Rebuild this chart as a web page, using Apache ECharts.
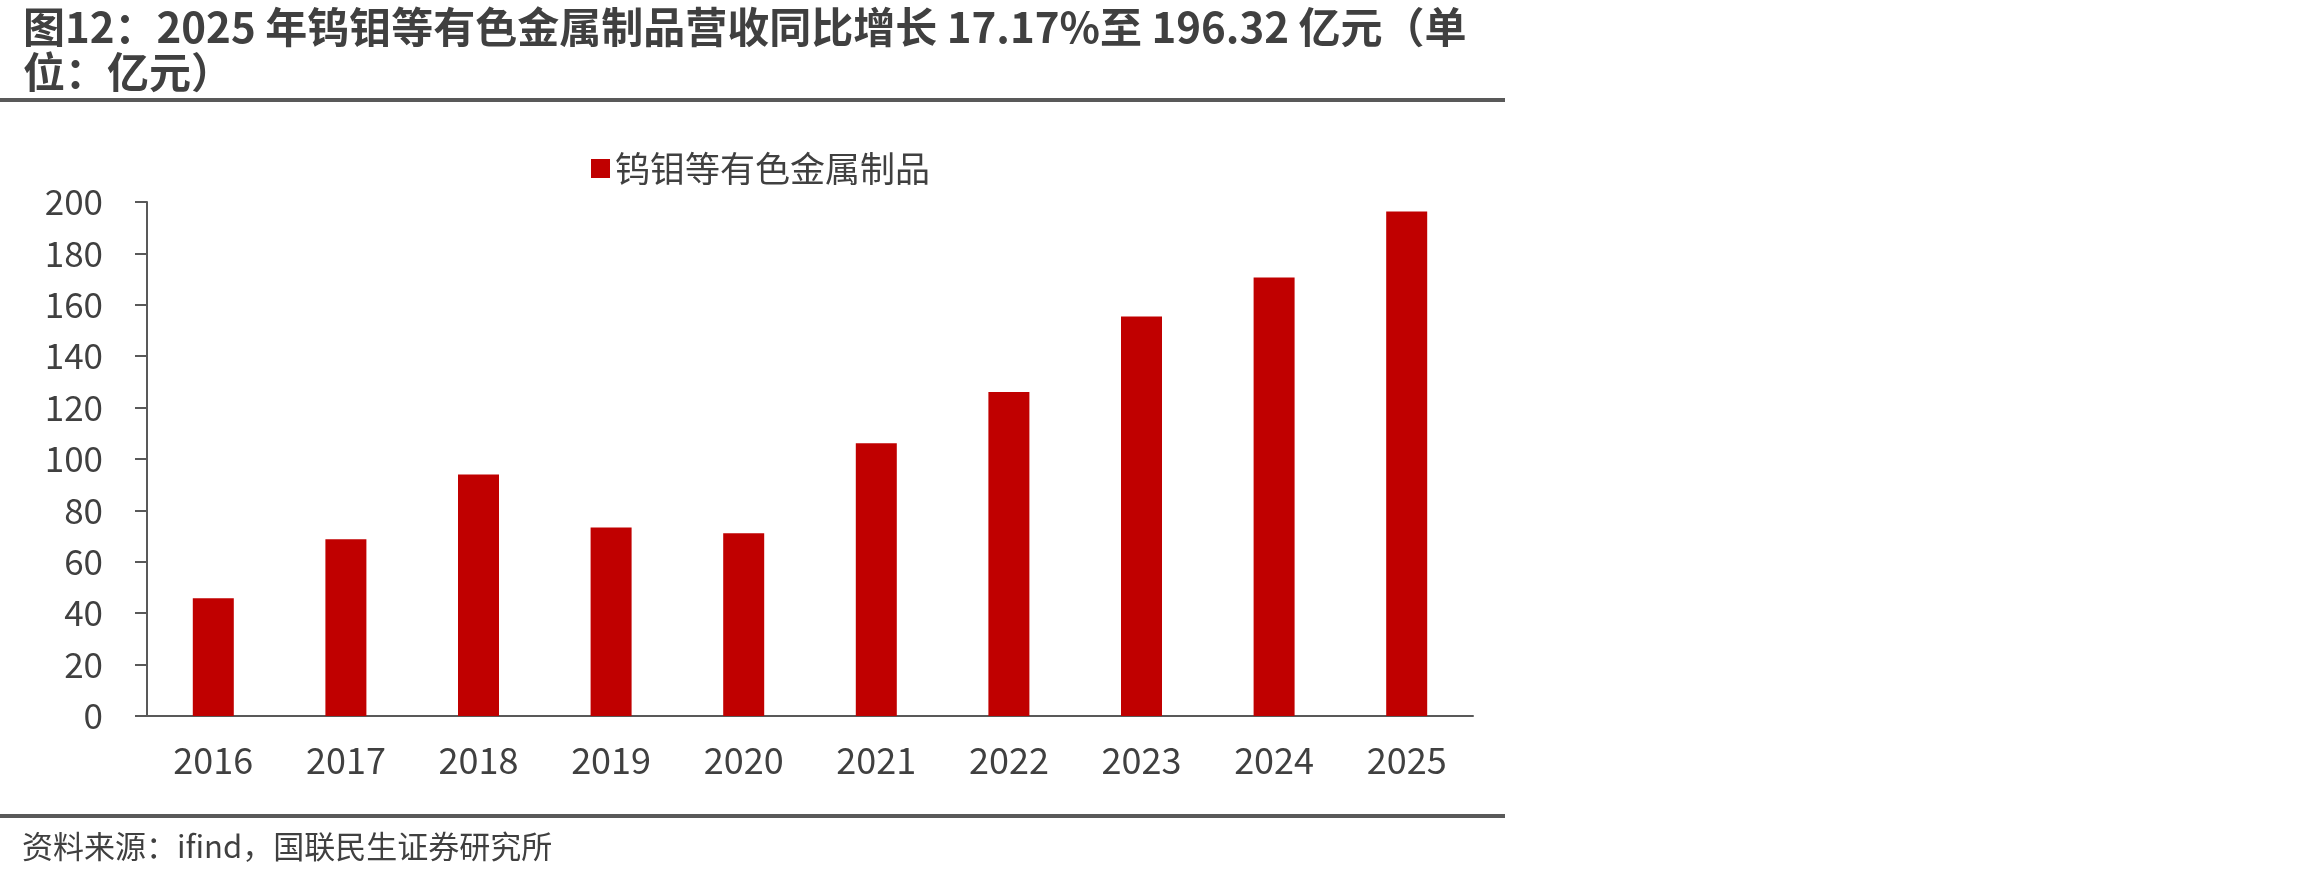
<!DOCTYPE html>
<html>
<head>
<meta charset="UTF-8">
<title></title>
<script src="https://cdn.jsdelivr.net/npm/echarts@6/dist/echarts.min.js"></script>
<style>
  html, body { margin: 0; padding: 0; background: #fff; }
  #chart { width: 2310px; height: 880px; }
</style>
</head>
<body>
<div id="chart"></div>
<script>
// data (亿元)
var years = ['2016', '2017', '2018', '2019', '2020', '2021', '2022', '2023', '2024', '2025'];
var revenue = [45.8, 68.8, 94.0, 73.3, 71.1, 106.1, 126.1, 155.4, 170.6, 196.32];
var seriesName = '钨钼等有色金属制品';
var titleText = '图12：2025 年钨钼等有色金属制品营收同比增长 17.17%至 196.32 亿元（单\n位：亿元）';
var sourceText = '资料来源：ifind，国联民生证券研究所';

var font = '"Noto Sans CJK SC", "Microsoft YaHei", sans-serif';
var chart = echarts.init(document.getElementById('chart'));

var option = {
  backgroundColor: '#fff',
  animation: false,
  title: {
    text: titleText,
    left: 18,
    top: 0,
    textStyle: {
      fontFamily: font,
      fontSize: 42,
      fontWeight: 'bold',
      color: '#404040',
      lineHeight: 45
    }
  },
  legend: {
    data: [{ name: seriesName, icon: 'rect' }],
    top: 146,
    left: 586,
    itemWidth: 19,
    itemHeight: 19,
    itemGap: 10,
    textStyle: { fontFamily: font, fontSize: 35, color: '#404040' }
  },
  grid: { left: 147, right: 837, top: 202, bottom: 164 },
  xAxis: {
    type: 'category',
    data: years,
    axisLine: { lineStyle: { color: '#595959', width: 2 } },
    axisTick: { length: 12, lineStyle: { color: '#595959', width: 2 } },
    axisLabel: { fontFamily: font, fontSize: 36, color: '#404040', margin: 26 }
  },
  yAxis: {
    type: 'value',
    min: 0,
    max: 200,
    interval: 20,
    splitLine: { show: false },
    axisLine: { show: true, lineStyle: { color: '#595959', width: 2 } },
    axisTick: { show: true, inside: false, length: 12, lineStyle: { color: '#595959', width: 2 } },
    axisLabel: { fontFamily: font, fontSize: 35, color: '#404040', margin: 44 }
  },
  series: [{
    name: seriesName,
    type: 'bar',
    data: revenue,
    barWidth: 41,
    itemStyle: { color: '#C00000' }
  }],
  graphic: [
    { type: 'rect', shape: { x: 0, y: 98, width: 1505, height: 4 }, style: { fill: '#595959' } },
    { type: 'rect', shape: { x: 0, y: 814, width: 1505, height: 4 }, style: { fill: '#595959' } },
    {
      type: 'text', left: 22, top: 831,
      style: { text: sourceText, font: '31px ' + font, fill: '#404040' }
    }
  ]
};
chart.setOption(option);
</script>
</body>
</html>
